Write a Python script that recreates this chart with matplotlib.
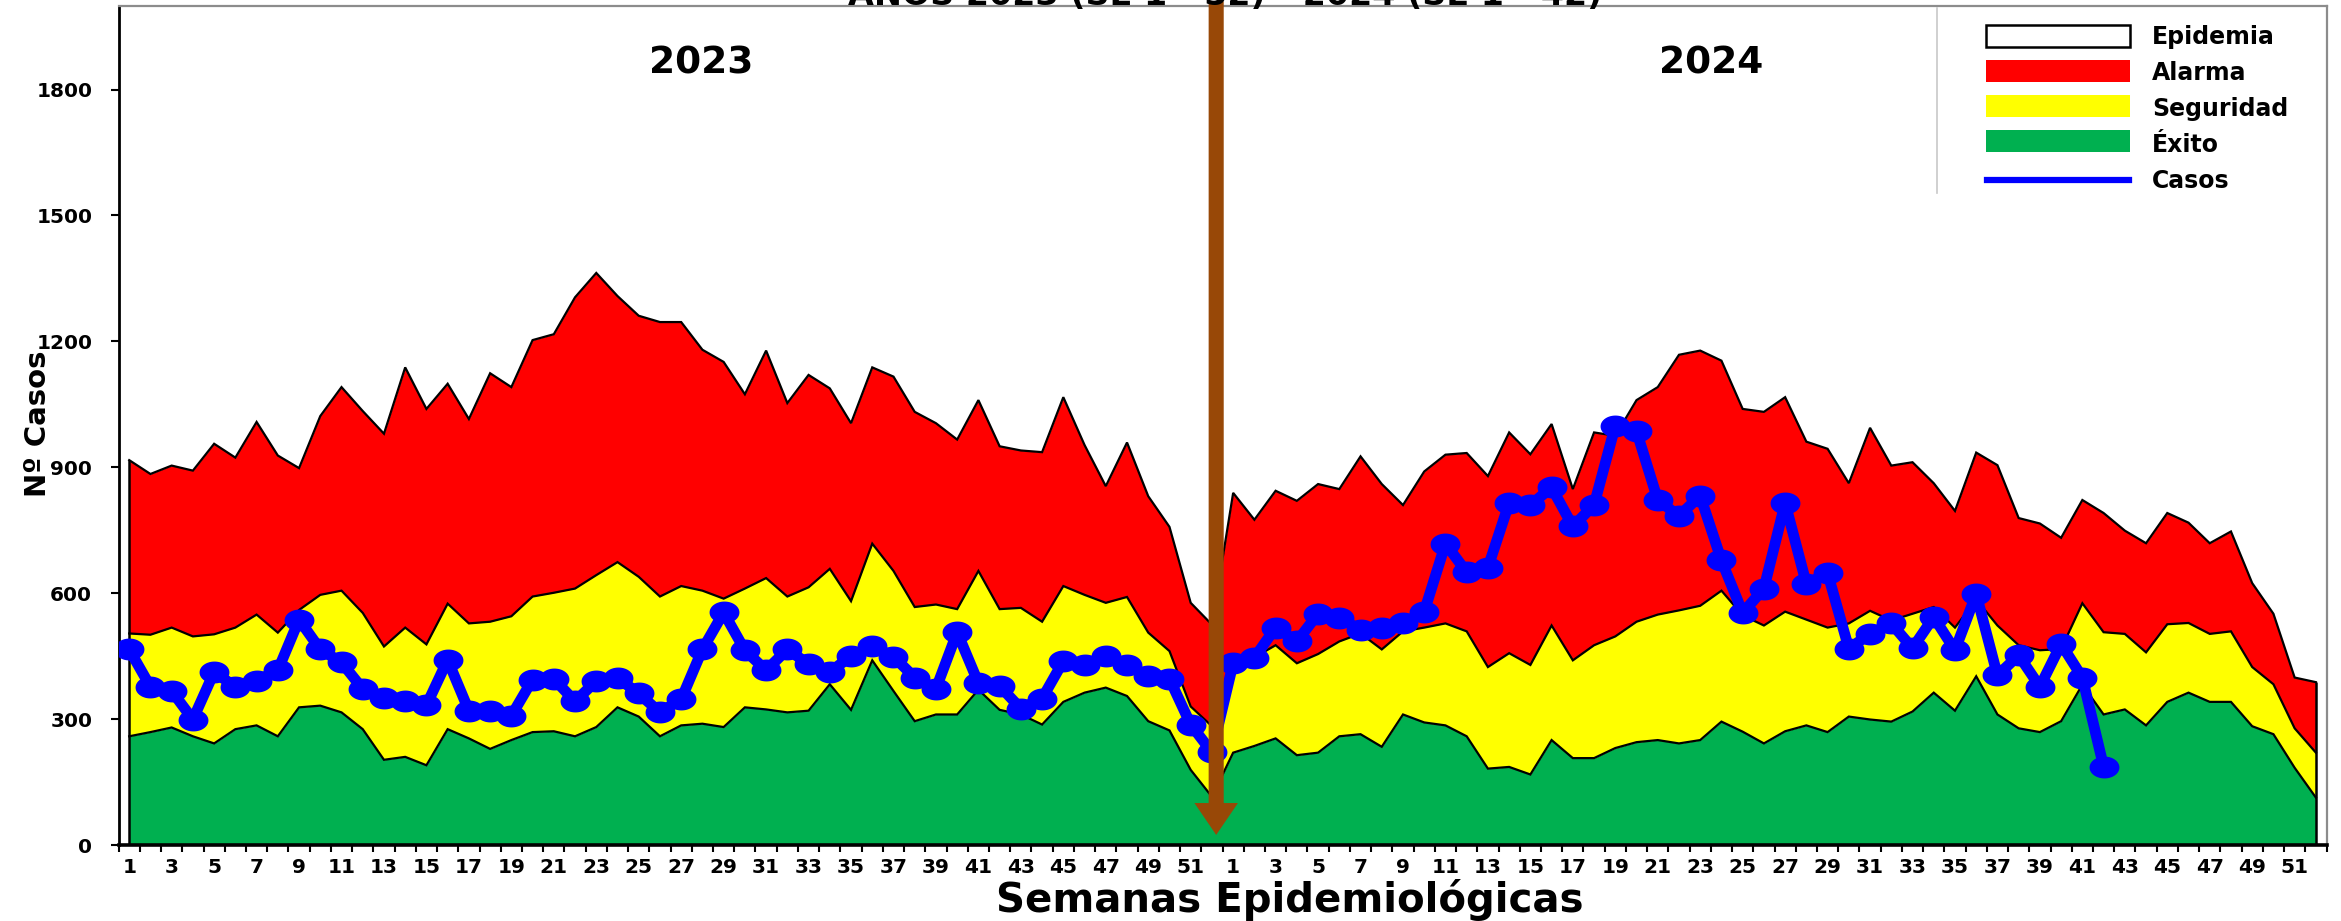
import numpy as np
import matplotlib
matplotlib.use("Agg")
import matplotlib.pyplot as plt
from matplotlib.path import Path
from matplotlib.patches import FancyArrow, Rectangle
from matplotlib.lines import Line2D

# ---------------- data ----------------
week_labels = [str(w) for w in range(1, 53)] * 2   # 2023 weeks 1-52, 2024 weeks 1-52

# upper limit of the "Alarma" band (red)
alarma = [917, 884, 904, 892, 956, 923, 1008, 928, 898, 1022, 1091, 1034, 980, 1138, 1039, 1099, 1015, 1124, 1091, 1203, 1217,
          1305, 1363, 1308, 1261, 1246, 1246, 1180, 1151, 1074, 1178, 1053, 1120, 1088, 1005, 1138, 1116, 1032, 1005, 966, 1060,
          950, 940, 936, 1067, 953, 855, 959, 831, 758, 577, 525,
          839, 775, 844, 820, 860, 848, 926, 860, 810,
          890, 930, 934, 879, 983, 931, 1003, 848, 983, 975, 1060, 1091, 1168, 1178, 1154, 1039, 1032, 1067, 961, 944, 862,
          994, 904, 912, 862, 796, 935, 905, 779, 766, 732, 822, 791, 749, 719, 791, 768, 719, 747, 624, 551, 399, 388]

# upper limit of the "Seguridad" band (yellow)
seguridad = [504, 501, 518, 497, 502, 518, 549, 506, 560, 596, 606, 553, 473, 518, 478, 575, 528, 532, 545, 592, 601,
             611, 643, 674, 639, 592, 617, 606, 587, 611, 636, 592, 614, 658, 581, 718, 653, 567, 573, 562, 653,
             562, 565, 532, 617, 596, 577, 591, 506, 462, 330, 283,
             429, 447, 476, 433, 455, 485, 504, 466, 509,
             518, 528, 509, 424, 457, 429, 523, 440, 476, 497, 532, 549, 559, 570, 606, 547, 523, 556, 537, 518, 528,
             558, 535, 551, 567, 518, 585, 523, 476, 464, 467, 576, 507, 503, 459, 526, 529, 503, 509, 424, 383, 278, 220]

# upper limit of the "Éxito" band (green)
exito = [259, 269, 280, 259, 242, 276, 285, 259, 328, 332, 316, 276, 203, 210, 190, 276, 254, 229, 250, 269, 271,
         259, 281, 328, 306, 259, 285, 289, 281, 328, 323, 316, 320, 383, 322, 440, 367, 295, 311, 311, 370,
         322, 311, 287, 341, 363, 375, 355, 295, 273, 179, 115,
         220, 236, 254, 214, 220, 259, 264, 234, 311,
         292, 285, 259, 182, 186, 168, 250, 207, 207, 231, 245, 250, 242, 250, 294, 270, 242, 271, 285, 269, 306,
         299, 294, 318, 363, 320, 402, 311, 278, 269, 295, 382, 311, 323, 285, 341, 363, 341, 341, 283, 264, 184, 113]

casos_2023 = [466, 377, 367, 299, 412, 377, 391, 416, 537, 466, 435, 372, 350, 342, 333, 441, 320, 320, 308, 394, 396,
              342, 391, 398, 361, 316, 347, 466, 554, 464, 416, 466, 431, 412, 450, 473, 449, 399, 372, 507, 386,
              379, 325, 349, 438, 429, 450, 429, 403, 396, 287, 221]
casos_2024 = [433, 446, 518, 485, 551, 542, 512, 518, 528,
              556, 718, 650, 661, 815, 810, 852, 759, 810, 999, 986, 822, 784, 832, 678, 553, 611, 815, 622, 648, 468,
              503, 528, 469, 543, 464, 598, 404, 452, 377, 479, 399, 187]

legend_labels = ["Epidemia", "Alarma", "Seguridad", "Éxito", "Casos"]
year_labels = ["2023", "2024"]
title = "AÑOS 2023 (SE 1 - 52) - 2024 (SE 1 - 42)"

# ---------------- style ----------------
RED = "#FF0000"
YELLOW = "#FFFF00"
GREEN = "#00B050"
BLUE = "#0000FF"
BROWN = "#984807"
plt.rcParams["font.family"] = ["DejaVu Sans"]
plt.rcParams["font.weight"] = "bold"

W, H = 2341, 921
fig = plt.figure(figsize=(W / 100, H / 100), dpi=100)
left_px, right_px, top_px, bottom_px = 118.6, 2326.5, 5.6, 845.0
ax = fig.add_axes([left_px / W, 1 - bottom_px / H, (right_px - left_px) / W, (bottom_px - top_px) / H])

n = len(alarma)
x = np.arange(1, n + 1)
ex = np.array(exito)
se = np.array(seguridad)
al = np.array(alarma)

ax.fill_between(x, 0, ex, color=GREEN, lw=0, zorder=1)
ax.fill_between(x, ex, se, color=YELLOW, lw=0, zorder=1)
ax.fill_between(x, se, al, color=RED, lw=0, zorder=1)
for arr in (ex, se, al):
    ax.plot(x, arr, color="black", lw=1.6, zorder=2, solid_joinstyle="miter")
ax.vlines([x[0], x[-1]], 0, [al[0], al[-1]], color="black", lw=1.8, zorder=2)

# cases line with elliptical markers
t = np.linspace(0, 2 * np.pi, 60)
ellipse = Path(np.column_stack([np.cos(t), 0.72 * np.sin(t)]), closed=True)
casos = casos_2023 + casos_2024
xc = np.arange(1, len(casos) + 1)
ax.plot(xc, casos, color=BLUE, lw=7.8, marker=ellipse, markersize=20.5,
        markerfacecolor=BLUE, markeredgecolor=BLUE, zorder=4, solid_joinstyle="round")

# arrow separating years (after week 52 of 2023)
arrow_x = 52.2
arrow = FancyArrow(arrow_x, 2010, 0, -1986, width=0.71, head_width=2.05, head_length=76,
                   length_includes_head=True, color=BROWN, lw=0, zorder=6, clip_on=False)
ax.add_patch(arrow)

# axes
ax.set_xlim(0.5, n + 0.5)
ax.set_ylim(0, 2000)
ax.set_yticks(range(0, 2100, 300))
ax.set_yticklabels([str(v) for v in range(0, 2100, 300)], fontsize=14.5, fontweight="bold")
odd = [i for i in range(1, n + 1) if int(week_labels[i - 1]) % 2 == 1]
ax.set_xticks(odd)
ax.set_xticklabels([week_labels[i - 1] for i in odd], fontsize=14.5, fontweight="bold")
ax.set_xticks(np.arange(0.5, n + 1.0, 1.0), minor=True)
ax.tick_params(axis="x", which="major", length=0, pad=9)
ax.tick_params(axis="x", which="minor", length=5, width=1.5, direction="out")
ax.tick_params(axis="y", which="major", length=6, width=1.5, direction="out", pad=13)
for s in ("left", "bottom"):
    ax.spines[s].set_color("black")
ax.spines["left"].set_linewidth(2)
ax.spines["bottom"].set_linewidth(2.6)
for s in ("top", "right"):
    ax.spines[s].set_color("#8c8c8c")
    ax.spines[s].set_linewidth(1.6)

# texts
def fx(px):
    return px / W

def fy(py):
    return 1 - py / H

fig.text(fx(1225), fy(5), title, ha="center", va="baseline", fontsize=24, fontweight="bold", zorder=0)
fig.text(fx(701), fy(73), year_labels[0], ha="center", va="baseline", fontsize=27, fontweight="bold")
fig.text(fx(1711), fy(73), year_labels[1], ha="center", va="baseline", fontsize=27, fontweight="bold")
fig.text(fx(1290), fy(912), "Semanas Epidemiológicas", ha="center", va="baseline", fontsize=29, fontweight="bold")
fig.text(fx(38), fy(424), "Nº Casos", ha="center", va="center", rotation=90, fontsize=21, fontweight="bold")

# legend (manual, top right)
fig.patches.append(Rectangle((fx(1937), fy(193)), fx(2325) - fx(1937), fy(8.5) - fy(193),
                             transform=fig.transFigure, facecolor="white", edgecolor="none", zorder=3))
fig.lines.append(Line2D([fx(1937), fx(1937)], [fy(8.5), fy(193)], transform=fig.transFigure,
                        color="#c8c8c8", lw=1.2, zorder=3.1))
patch_cols = ["white", RED, YELLOW, GREEN]
patch_cy = [36, 71, 106, 141]
for col, cy in zip(patch_cols, patch_cy):
    fig.patches.append(Rectangle((fx(1986), fy(cy + 11)), fx(2130) - fx(1986), fy(cy - 11) - fy(cy + 11),
                                 transform=fig.transFigure, facecolor=col,
                                 edgecolor="black" if col == "white" else "none", lw=1.8, zorder=4))
fig.lines.append(Line2D([fx(1987), fx(2129)], [fy(180), fy(180)], transform=fig.transFigure,
                        color=BLUE, lw=4.5, zorder=4))
text_base = [44, 80.5, 116, 151.5, 187.5]
for lab, b in zip(legend_labels, text_base):
    fig.text(fx(2152), fy(b), lab, ha="left", va="baseline", fontsize=17, fontweight="bold", zorder=5)

fig.savefig("out.png", dpi=100)
